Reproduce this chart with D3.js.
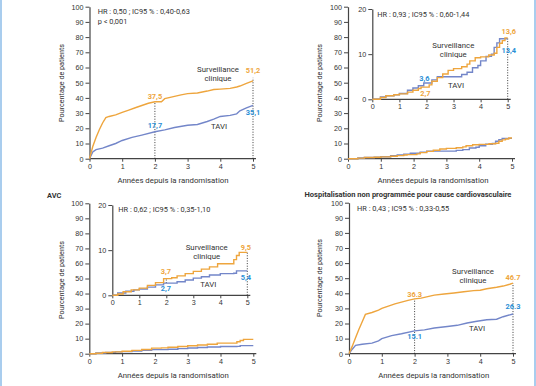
<!DOCTYPE html>
<html>
<head>
<meta charset="utf-8">
<script src="https://cdn.jsdelivr.net/npm/d3@7"></script>
<style>
  body { margin: 0; background: #fff; }
  svg { display: block; font-family: Roboto, "DejaVu Sans", sans-serif; }
</style>
</head>
<body>
<svg id="chart" width="536" height="386"></svg>
<script>
// ---- data (years since randomisation, % of patients) ----
const years = [0, 1, 2, 3, 4, 5];
const pctTicks = [0, 10, 20, 30, 40, 50, 60, 70, 80, 90, 100];
const insetTicks = [0, 10, 20];

const p1Surv = [[0,0],[0.05,4],[0.1,8],[0.2,14],[0.3,19],[0.4,23.5],[0.5,27],[0.6,27.8],[0.8,28.8],[1,30.5],[1.2,32],[1.4,33.5],[1.6,35],[1.8,36.5],[2,37.5],[2.2,37.5],[2.3,39.5],[2.5,40.5],[2.8,42],[3,42.8],[3.3,43.2],[3.6,44.5],[3.8,45.5],[4,45.8],[4.3,46.3],[4.5,47.2],[4.6,47.8],[4.8,49.5],[5,51.2]];
const p1Tavi = [[0,0],[0.1,4.5],[0.2,6],[0.4,7],[0.6,8.5],[0.8,10],[1,12],[1.3,14],[1.6,15.5],[2,17.7],[2.3,19],[2.6,20.5],[3,22],[3.3,22.5],[3.6,24.5],[3.8,26],[4,27.8],[4.3,28.5],[4.5,29.5],[4.6,31.5],[4.8,33.5],[5,35.1]];
const p1Marks = { surv: [[2, 37.5], [5, 51.2]], tavi: [[2, 17.7], [5, 35.1]] };

const p2Surv = [[0,0],[0.3,0.4],[0.5,0.8],[0.8,1],[1,1.2],[1.3,1.6],[1.5,2],[1.7,2.4],[1.8,2.7],[2.1,3.2],[2.2,4],[2.4,4.8],[2.6,5.6],[2.8,6.4],[3,6.8],[3.3,7.2],[3.5,7.8],[3.6,8.5],[3.8,9.2],[4,9.4],[4.3,9.8],[4.5,10.2],[4.6,11.5],[4.7,12.4],[4.8,13],[4.9,13.6],[5,13.6]];
const p2Tavi = [[0,0],[0.3,0.5],[0.5,0.8],[0.8,1],[1,1.3],[1.3,2],[1.5,2.5],[1.7,3],[1.9,3.6],[2.2,4.3],[2.4,5],[2.7,5],[3,5],[3.3,5.5],[3.5,6],[3.7,7],[3.9,7.5],[4,8.5],[4.2,9.5],[4.4,10],[4.5,11.5],[4.6,12.5],[4.7,13.4],[5,13.4]];
const p2Marks = { surv: [[2, 2.7], [5, 13.6]], tavi: [[2, 3.6], [5, 13.4]] };

const p3Surv = [[0,0],[0.2,0.3],[0.4,0.8],[0.7,1.2],[1,1.6],[1.3,2.2],[1.6,2.8],[1.9,3.7],[2.2,3.9],[2.4,4.3],[2.7,4.8],[3,5.3],[3.3,5.8],[3.6,6.3],[3.9,7],[4.3,7],[4.5,7.9],[4.6,8.8],[4.7,9.5],[5,9.5]];
const p3Tavi = [[0,0],[0.2,0.5],[0.5,0.9],[0.8,1.2],[1,1.4],[1.3,1.8],[1.6,2.3],[1.9,2.7],[2.4,3],[2.7,3.4],[3,3.8],[3.3,4.1],[3.6,4.5],[4,4.8],[4.5,4.9],[4.6,5.4],[5,5.4]];
const p3Marks = { surv: [[2, 3.7], [5, 9.5]], tavi: [[2, 2.7], [5, 5.4]] };

const p4Surv = [[0,0],[0.1,5],[0.2,10.5],[0.3,16],[0.4,21],[0.5,26],[0.7,27.3],[0.9,28.8],[1,30],[1.2,31.5],[1.4,33],[1.6,34.2],[1.8,35.3],[2,36.3],[2.2,36.8],[2.4,37.8],[2.6,38.8],[2.9,39.5],[3.2,40.2],[3.5,41],[3.8,41.8],[4,42],[4.2,43],[4.5,44],[4.7,44.8],[4.9,46],[5,46.7]];
const p4Tavi = [[0,0],[0.1,3],[0.2,5.5],[0.4,6.3],[0.7,7],[0.9,8.5],[1,10],[1.3,12],[1.6,13.2],[2,15.1],[2.3,15.8],[2.6,17],[3,18],[3.3,18.8],[3.6,20.3],[3.9,21.5],[4.2,22.5],[4.5,22.8],[4.7,24.5],[5,26.3]];
const p4Marks = { surv: [[2, 36.3], [5, 46.7]], tavi: [[2, 15.1], [5, 26.3]] };

const orange = '#eea53d',
  blue = '#7386c9',
  blueText = '#2b8fd6',
  ink = '#333';

const svg = d3.select('#chart');

// thin blue frame at the page edges
svg.append('rect').attr('x', 0).attr('y', 0).attr('width', 2).attr('height', 386).attr('fill', '#a9cdee');
svg.append('rect').attr('x', 534).attr('y', 0).attr('width', 2).attr('height', 386).attr('fill', '#a9cdee');

function axes(g, x, y, yTicks) {
  g.append('g')
    .attr('transform', `translate(${x.range()[0]},0)`)
    .call(d3.axisLeft(y).tickValues(yTicks).tickFormat(d3.format('d')).tickSize(4).tickPadding(2).tickSizeOuter(0))
    .call(a => a.select('.domain').attr('stroke', '#444').attr('stroke-width', 1.2))
    .call(a => a.selectAll('.tick line').attr('stroke', '#444'))
    .call(a => a.selectAll('text').attr('font-size', 7.2).attr('fill', ink).attr('font-family', null));
  g.append('g')
    .attr('transform', `translate(0,${y.range()[0]})`)
    .call(d3.axisBottom(x).tickValues(years).tickFormat(d3.format('d')).tickSize(3).tickPadding(2).tickSizeOuter(0))
    .call(a => a.select('.domain').remove())
    .call(a => a.selectAll('.tick line').attr('stroke', '#444'))
    .call(a => a.selectAll('text').attr('font-size', 7.2).attr('fill', ink).attr('font-family', null));
  g.append('line')
    .attr('x1', x(0)).attr('x2', x(5) + 3)
    .attr('y1', y.range()[0]).attr('y2', y.range()[0])
    .attr('stroke', '#444').attr('stroke-width', 1.2);
}

function curves(g, x, y, surv, tavi, curve) {
  const line = d3.line().x(d => x(d[0])).y(d => y(d[1])).curve(curve);
  g.append('path').datum(tavi).attr('d', line)
    .attr('fill', 'none').attr('stroke', blue).attr('stroke-width', 1.4);
  g.append('path').datum(surv).attr('d', line)
    .attr('fill', 'none').attr('stroke', orange).attr('stroke-width', 1.4);
}

function dotted(g, x, y, t, v0, v1) {
  g.append('line')
    .attr('x1', x(t)).attr('x2', x(t))
    .attr('y1', y(v0)).attr('y2', y(v1))
    .attr('stroke', '#222').attr('stroke-width', 0.9)
    .attr('stroke-dasharray', '1,1.6');
}

function text(g, x, y, str, opts = {}) {
  return g.append('text')
    .attr('x', x).attr('y', y)
    .attr('font-size', opts.size || 7.4)
    .attr('font-weight', opts.weight || null)
    .attr('fill', opts.fill || ink)
    .attr('text-anchor', opts.anchor || 'start')
    .text(str);
}

function mark(g, x, y, m, fill, dx, dy, fmt) {
  text(g, x(m[0]) + dx, y(m[1]) + dy, fmt(m[1]), { fill, anchor: 'middle', weight: 700, size: 7.4 });
}

function yTitle(g, cx, cy) {
  g.append('text')
    .attr('transform', `translate(${cx},${cy}) rotate(-90)`)
    .attr('text-anchor', 'middle').attr('font-size', 7.2).attr('fill', ink)
    .text('Pourcentage de patients');
}

function legend(g, cx, cy, tx, ty) {
  text(g, cx, cy, 'Surveillance', { anchor: 'middle', size: 7.8 });
  text(g, cx, cy + 9, 'clinique', { anchor: 'middle', size: 7.8 });
  text(g, tx, ty, 'TAVI', { anchor: 'middle', size: 7.8 });
}

const comma = d3.format('.1f'),
  fr = v => comma(v).replace('.', ',');

// ---- panel 1 ----
{
  const g = svg.append('g');
  const x = d3.scaleLinear().domain([0, 5]).range([89.5, 253]);
  const y = d3.scaleLinear().domain([0, 100]).range([158.7, 6.7]);
  axes(g, x, y, pctTicks);
  dotted(g, x, y, 2, 0, p1Marks.surv[0][1]);
  dotted(g, x, y, 5, 0, p1Marks.surv[1][1] + 2);
  curves(g, x, y, p1Surv, p1Tavi, d3.curveLinear);
  mark(g, x, y, p1Marks.surv[0], orange, 0, -3, fr);
  mark(g, x, y, p1Marks.tavi[0], blueText, 0, -4, fr);
  mark(g, x, y, p1Marks.surv[1], orange, 0, -8, fr);
  mark(g, x, y, p1Marks.tavi[1], blueText, 0, 10, fr);
  legend(g, 218, 71.5, 219, 128.5);
  text(g, 97.7, 13.5, 'HR : 0,50 ; IC95 % : 0,40-0,63');
  text(g, 97.7, 23.5, 'p < 0,001');
  yTitle(g, 64, 83);
  text(g, 173, 182.5, 'Années depuis la randomisation', { anchor: 'middle', size: 7.8 });
}

// ---- panel 2 ----
{
  const g = svg.append('g');
  const x = d3.scaleLinear().domain([0, 5]).range([348, 512]);
  const y = d3.scaleLinear().domain([0, 100]).range([158.7, 6.7]);
  axes(g, x, y, pctTicks);
  curves(g, x, y, p2Surv, p2Tavi, d3.curveStepAfter);
  yTitle(g, 322, 83);
  text(g, 433, 182.5, 'Années depuis la randomisation', { anchor: 'middle', size: 7.8 });

  const xi = d3.scaleLinear().domain([0, 5]).range([372.3, 507.7]);
  const yi = d3.scaleLinear().domain([0, 20]).range([99.3, 9]);
  axes(g, xi, yi, insetTicks);
  dotted(g, xi, yi, 5, 0, p2Marks.surv[1][1]);
  curves(g, xi, yi, p2Surv, p2Tavi, d3.curveStepAfter);
  mark(g, xi, yi, p2Marks.tavi[0], blueText, -2, -2.5, fr);
  mark(g, xi, yi, p2Marks.surv[0], orange, -1, 8.5, fr);
  mark(g, xi, yi, p2Marks.surv[1], orange, 1, -3.5, fr);
  mark(g, xi, yi, p2Marks.tavi[1], blueText, 1, 14, fr);
  legend(g, 453.3, 48, 456, 87.5);
  text(g, 377.3, 16.5, 'HR : 0,93 ; IC95 % : 0,60-1,44');
}

// ---- panel 3 : AVC ----
{
  const g = svg.append('g');
  text(g, 47, 197.5, 'AVC', { weight: 700, size: 7.4 });
  const x = d3.scaleLinear().domain([0, 5]).range([89.3, 253.3]);
  const y = d3.scaleLinear().domain([0, 100]).range([353.7, 203.3]);
  axes(g, x, y, pctTicks);
  curves(g, x, y, p3Surv, p3Tavi, d3.curveStepAfter);
  yTitle(g, 63.5, 280);
  text(g, 173.3, 377.5, 'Années depuis la randomisation', { anchor: 'middle', size: 7.8 });

  const xi = d3.scaleLinear().domain([0, 5]).range([112.3, 247.3]);
  const yi = d3.scaleLinear().domain([0, 20]).range([295.3, 205]);
  axes(g, xi, yi, insetTicks);
  dotted(g, xi, yi, 2, p3Marks.tavi[0][1], p3Marks.surv[0][1]);
  dotted(g, xi, yi, 5, 0, p3Marks.surv[1][1]);
  curves(g, xi, yi, p3Surv, p3Tavi, d3.curveStepAfter);
  mark(g, xi, yi, p3Marks.surv[0], orange, -0.5, -5, fr);
  mark(g, xi, yi, p3Marks.tavi[0], blueText, -0.5, 7.5, fr);
  mark(g, xi, yi, p3Marks.surv[1], orange, -1.5, -2.5, fr);
  mark(g, xi, yi, p3Marks.tavi[1], blueText, -1.5, 9.5, fr);
  legend(g, 206.7, 249.5, 208.3, 286.5);
  text(g, 118.3, 211.5, 'HR : 0,62 ; IC95 % : 0,35-1,10');
}

// ---- panel 4 : hospitalisation ----
{
  const g = svg.append('g');
  text(g, 408, 196.5, 'Hospitalisation non programmée pour cause cardiovasculaire', { anchor: 'middle', weight: 700, size: 7.5 });
  const x = d3.scaleLinear().domain([0, 5]).range([349, 513]);
  const y = d3.scaleLinear().domain([0, 100]).range([353.7, 202.7]);
  axes(g, x, y, pctTicks);
  dotted(g, x, y, 2, 0, p4Marks.surv[0][1]);
  dotted(g, x, y, 5, 0, p4Marks.surv[1][1]);
  curves(g, x, y, p4Surv, p4Tavi, d3.curveLinear);
  const dot = v => comma(v);
  mark(g, x, y, p4Marks.surv[0], orange, 0, -2, dot);
  mark(g, x, y, p4Marks.tavi[0], blueText, 0, 8, dot);
  mark(g, x, y, p4Marks.surv[1], orange, 0, -3, dot);
  mark(g, x, y, p4Marks.tavi[1], blueText, 0, -4.5, dot);
  legend(g, 473, 274, 477, 330.5);
  text(g, 357, 210.5, 'HR : 0,43 ; IC95 % : 0,33-0,55');
  yTitle(g, 322, 278);
  text(g, 433.7, 377.5, 'Années depuis la randomisation', { anchor: 'middle', size: 7.8 });
}
</script>
</body>
</html>
